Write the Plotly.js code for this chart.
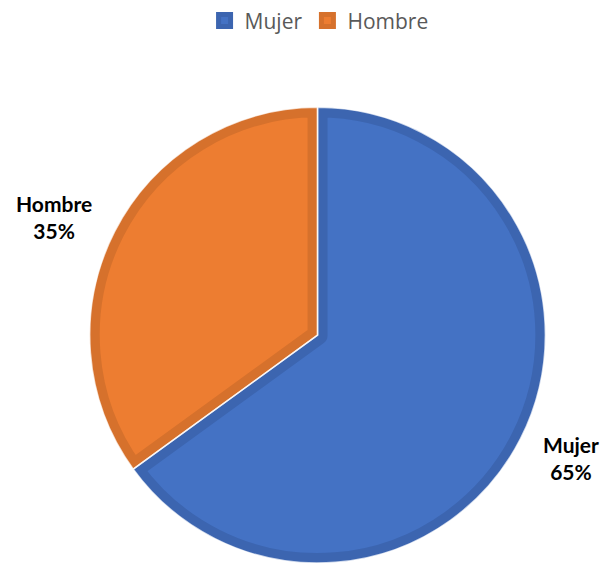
<!DOCTYPE html>
<html>
<head>
<meta charset="utf-8">
<script src="https://cdn.plot.ly/plotly-3.0.1.min.js"></script>
<style>html,body{margin:0;padding:0;background:#fff;}#chart{width:602px;height:563px;}</style>
</head>
<body>
<div id="chart"></div>
<script>
const labels = ["Mujer", "Hombre"];
const values = [65, 35];
const fillColors = ["#4472C4", "#ED7D31"];
const borderColors = ["#3C65B0", "#D6712C"];

const W = 602, H = 563;
const domain = {x: [0.1400, 0.9150], y: [0, 0.818]};

// label positions derived from the slice mid-angles (clockwise from 12 o'clock)
const total = values.reduce((a, b) => a + b, 0);
const cxPx = 317.5;
const cyPx = H - 335; // from bottom
const R = 227, GAPX = 21, OFFY = 42;
let cum = 0;
const annotations = values.map(function (v, i) {
  const mid = (cum + v / 2) / total * 2 * Math.PI;
  cum += v;
  const s = Math.sin(mid), c = Math.cos(mid);
  const pct = Math.round(v / total * 100);
  return {
    xref: "paper", yref: "paper",
    x: (cxPx + R * s + GAPX * Math.sign(s)) / W,
    y: (cyPx + R * c + OFFY * c) / H,
    xanchor: s > 0 ? "left" : "right", yanchor: "middle",
    text: "<b>" + labels[i] + "<br>" + pct + "%</b>",
    showarrow: false,
    align: "center",
    font: {family: "Lato, sans-serif", size: 21, color: "#000000"}
  };
});

const data = [
  {
    type: "pie",
    labels: labels,
    values: values,
    sort: false,
    direction: "clockwise",
    rotation: 0,
    domain: domain,
    marker: {colors: fillColors, line: {color: borderColors, width: 20}},
    textinfo: "none",
    hoverinfo: "none",
    showlegend: true
  },
  {
    type: "pie",
    labels: labels,
    values: values,
    sort: false,
    direction: "clockwise",
    rotation: 0,
    domain: domain,
    marker: {colors: ["rgba(0,0,0,0)", "rgba(0,0,0,0)"], line: {color: "rgba(255,255,255,0.75)", width: 1.5}},
    textinfo: "none",
    hoverinfo: "none",
    showlegend: false
  }
];

const layout = {
  width: W,
  height: H,
  margin: {l: 0, r: 0, t: 0, b: 0},
  paper_bgcolor: "#ffffff",
  showlegend: true,
  annotations: annotations,
  legend: {
    orientation: "h",
    x: 0.53, xanchor: "center",
    y: 1.01, yanchor: "top",
    font: {family: "Open Sans, sans-serif", size: 21, color: "#595959"},
    traceorder: "normal"
  }
};

Plotly.newPlot("chart", data, layout, {staticPlot: true, displayModeBar: false}).then(function (gd) {
  const NS = "http://www.w3.org/2000/svg";
  const svg = gd.querySelector("svg.main-svg");
  let defs = svg.querySelector("defs");
  if (!defs) { defs = document.createElementNS(NS, "defs"); svg.insertBefore(defs, svg.firstChild); }
  const traces = gd.querySelectorAll(".pielayer .trace");
  if (traces.length) {
    const slices = traces[0].querySelectorAll("g.slice path.surface");
    slices.forEach(function (p, i) {
      const cp = document.createElementNS(NS, "clipPath");
      cp.setAttribute("id", "sliceclip" + i);
      const cpPath = document.createElementNS(NS, "path");
      cpPath.setAttribute("d", p.getAttribute("d"));
      cp.appendChild(cpPath);
      defs.appendChild(cp);
      p.setAttribute("clip-path", "url(#sliceclip" + i + ")");
    });
  }
});
</script>
</body>
</html>
